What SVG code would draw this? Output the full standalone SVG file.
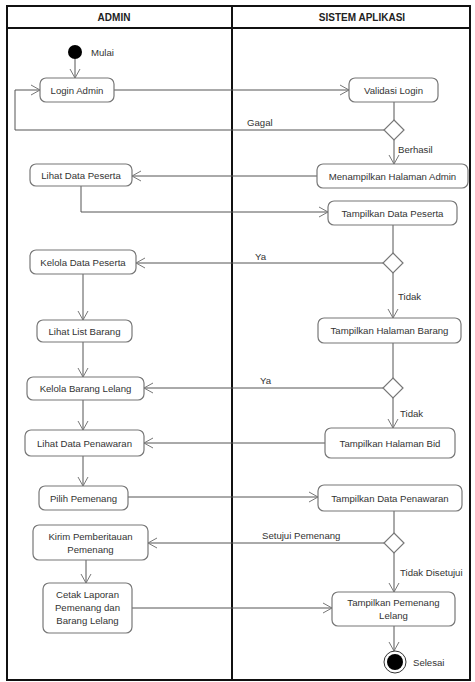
<svg xmlns="http://www.w3.org/2000/svg" width="475" height="682" viewBox="0 0 475 682">
<style>
text{font-family:"Liberation Sans",Arial,sans-serif;font-size:9.6px;fill:#333}
.hdr{font-weight:bold;font-size:10px;fill:#222;text-anchor:middle}
.c{text-anchor:middle}
.node rect{fill:#fff;stroke:#777;stroke-width:1.2}
.dia{fill:#fff;stroke:#777;stroke-width:1.2}
.ln{fill:none;stroke:#555;stroke-width:1}
.frame{fill:none;stroke:#111;stroke-width:2}
</style>
<defs>
<marker id="arr" markerUnits="userSpaceOnUse" markerWidth="12" markerHeight="12" refX="10" refY="6" orient="auto">
<path d="M1,1 L10,6 L1,11" fill="none" stroke="#777" stroke-width="1"/>
</marker>
</defs>
<rect x="0" y="0" width="475" height="682" fill="#fff"/>
<g id="swimlanes">
<rect class="frame" x="7" y="6" width="463" height="674"/>
<line class="frame" x1="7" y1="28" x2="470" y2="28"/>
<line class="frame" x1="232" y1="6" x2="232" y2="680"/>
<text class="hdr" x="114" y="21">ADMIN</text>
<text class="hdr" x="362" y="21">SISTEM APLIKASI</text>
</g>
<g id="connectors">
<path class="ln" d="M75,59 V78" marker-end="url(#arr)"/>
<path class="ln" d="M114,90 H349" marker-end="url(#arr)"/>
<path class="ln" d="M394,102 V120"/>
<path class="ln" d="M384,130 H15 V90 H40" marker-end="url(#arr)"/>
<path class="ln" d="M394,140 V164" marker-end="url(#arr)"/>
<path class="ln" d="M317,176 H132" marker-end="url(#arr)"/>
<path class="ln" d="M81,186 V212 H328" marker-end="url(#arr)"/>
<path class="ln" d="M393,225 V253"/>
<path class="ln" d="M383,263 H136" marker-end="url(#arr)"/>
<path class="ln" d="M393,273 V318" marker-end="url(#arr)"/>
<path class="ln" d="M83,274 V320" marker-end="url(#arr)"/>
<path class="ln" d="M393,343 V378"/>
<path class="ln" d="M83,342 V377" marker-end="url(#arr)"/>
<path class="ln" d="M383,388 H144" marker-end="url(#arr)"/>
<path class="ln" d="M393,398 V428" marker-end="url(#arr)"/>
<path class="ln" d="M83,400 V430" marker-end="url(#arr)"/>
<path class="ln" d="M325,443 H144" marker-end="url(#arr)"/>
<path class="ln" d="M83,456 V486" marker-end="url(#arr)"/>
<path class="ln" d="M128,497 H318" marker-end="url(#arr)"/>
<path class="ln" d="M394,511 V533"/>
<path class="ln" d="M384,543 H148" marker-end="url(#arr)"/>
<path class="ln" d="M394,553 V592" marker-end="url(#arr)"/>
<path class="ln" d="M86,560 V583" marker-end="url(#arr)"/>
<path class="ln" d="M132,608 H332" marker-end="url(#arr)"/>
<path class="ln" d="M394,626 V651" marker-end="url(#arr)"/>
<text x="247" y="126">Gagal</text>
<text x="398" y="153">Berhasil</text>
<text x="255" y="260">Ya</text>
<text x="398" y="300">Tidak</text>
<text x="260" y="384">Ya</text>
<text x="400" y="417">Tidak</text>
<text x="262" y="539">Setujui Pemenang</text>
<text x="400" y="576">Tidak Disetujui</text>
</g>
<g id="start"><circle cx="75" cy="52" r="7" fill="#000"/><text x="91" y="56">Mulai</text></g>
<g id="login" class="node"><rect x="40" y="78" width="74" height="24" rx="6"/><text class="c" x="77" y="94">Login Admin</text></g>
<g id="validasi" class="node"><rect x="349" y="78" width="89" height="24" rx="6"/><text class="c" x="393.5" y="94">Validasi Login</text></g>
<g id="d1"><path class="dia" d="M394,120 L404,130 L394,140 L384,130 Z"/></g>
<g id="menampilkan" class="node"><rect x="317" y="164" width="151" height="24" rx="6"/><text class="c" x="392.5" y="180">Menampilkan Halaman Admin</text></g>
<g id="lihatDataPeserta" class="node"><rect x="30" y="164" width="102" height="22" rx="6"/><text class="c" x="81" y="179">Lihat Data Peserta</text></g>
<g id="tampilDataPeserta" class="node"><rect x="328" y="201" width="129" height="24" rx="6"/><text class="c" x="392.5" y="217">Tampilkan Data Peserta</text></g>
<g id="d2"><path class="dia" d="M393,253 L403,263 L393,273 L383,263 Z"/></g>
<g id="kelolaDataPeserta" class="node"><rect x="30" y="250" width="106" height="24" rx="6"/><text class="c" x="83" y="266">Kelola Data Peserta</text></g>
<g id="tampilHalamanBarang" class="node"><rect x="318" y="318" width="143" height="25" rx="6"/><text class="c" x="389.5" y="334">Tampilkan Halaman Barang</text></g>
<g id="lihatListBarang" class="node"><rect x="37" y="320" width="95" height="22" rx="6"/><text class="c" x="84.5" y="335">Lihat List Barang</text></g>
<g id="d3"><path class="dia" d="M393,378 L403,388 L393,398 L383,388 Z"/></g>
<g id="kelolaBarangLelang" class="node"><rect x="27" y="377" width="117" height="23" rx="6"/><text class="c" x="85.5" y="392">Kelola Barang Lelang</text></g>
<g id="lihatDataPenawaran" class="node"><rect x="25" y="430" width="119" height="26" rx="6"/><text class="c" x="84.5" y="447">Lihat Data Penawaran</text></g>
<g id="tampilHalamanBid" class="node"><rect x="325" y="428" width="130" height="30" rx="6"/><text class="c" x="390" y="447">Tampilkan Halaman Bid</text></g>
<g id="pilihPemenang" class="node"><rect x="39" y="486" width="89" height="24" rx="6"/><text class="c" x="83.5" y="502">Pilih Pemenang</text></g>
<g id="tampilDataPenawaran" class="node"><rect x="318" y="485" width="144" height="26" rx="6"/><text class="c" x="390" y="502">Tampilkan Data Penawaran</text></g>
<g id="d4"><path class="dia" d="M394,533 L404,543 L394,553 L384,543 Z"/></g>
<g id="kirim" class="node"><rect x="33" y="525" width="115" height="35" rx="6"/><text class="c" x="90.5" y="540">Kirim Pemberitauan</text><text class="c" x="90.5" y="553">Pemenang</text></g>
<g id="tampilPemenang" class="node"><rect x="332" y="592" width="123" height="34" rx="6"/><text class="c" x="393.5" y="606">Tampilkan Pemenang</text><text class="c" x="393.5" y="619">Lelang</text></g>
<g id="cetak" class="node"><rect x="43" y="583" width="89" height="50" rx="6"/><text class="c" x="87.5" y="598">Cetak Laporan</text><text class="c" x="87.5" y="611">Pemenang dan</text><text class="c" x="87.5" y="624">Barang Lelang</text></g>
<g id="end"><circle cx="395" cy="662" r="11" fill="#fff" stroke="#333" stroke-width="1"/><circle cx="395" cy="662" r="8" fill="#000"/><text x="413" y="666">Selesai</text></g>
</svg>
